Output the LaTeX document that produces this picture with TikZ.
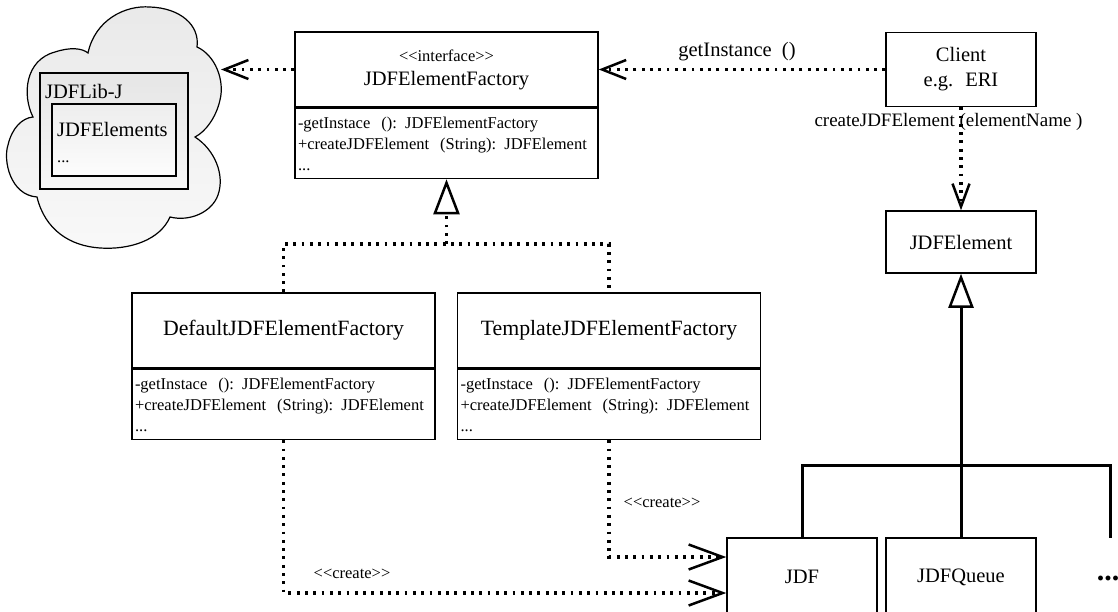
\documentclass[tikz,border=0pt]{standalone}
\usepackage{fontspec}
\setmainfont{Liberation Serif}
\usetikzlibrary{arrows.meta}
\usetikzlibrary{positioning}

\tikzset{
  cls/.style={draw, line width=1.5pt, fill=white, minimum width=303pt, minimum height=75pt, inner sep=0pt, align=center, font=\fontsize{20.5}{24}\selectfont},
  ops/.style={draw, line width=1.5pt, fill=white, minimum width=303pt, minimum height=70pt, inner xsep=3pt, inner ysep=0pt, text width=297pt, align=left, font=\fontsize{16.5}{21}\selectfont},
  box/.style={draw, line width=1.5pt, fill=white, minimum width=150pt, inner sep=0pt, align=center, font=\fontsize{20.5}{25}\selectfont},
  txt/.style={inner sep=0pt, font=\fontsize{20.5}{24}\selectfont},
  lbl/.style={inner sep=0pt, font=\fontsize{20.5}{24}\selectfont},
  stereo/.style={inner sep=0pt, font=\fontsize{16.5}{20}\selectfont},
  dotline/.style={line width=3.3pt, dash pattern=on 2.8pt off 5.5pt, line cap=butt},
  call/.style={dotline, -{Straight Barb[length=24pt,width=19pt,line width=2.5pt]}},
  create/.style={dotline, -{Straight Barb[length=34pt,width=25pt,line width=2.5pt]}},
  realize/.style={dotline, -{Triangle[open,length=35pt,width=26pt,line width=2.5pt]}},
  treeline/.style={line width=3pt},
  inherit/.style={treeline, -{Triangle[open,length=34pt,width=25pt,line width=2.5pt]}}
}

\begin{document}
\begin{tikzpicture}[x=1pt,y=-1pt]
\useasboundingbox (0,0) rectangle (1118,611);
\clip (0,0) rectangle (1118,611);

%Shape: Cloud
\draw[line width=1.2pt, top color=gray!17, bottom color=gray!5]
  (33,117) .. controls (22,95) and (25,60) .. (55,52) .. controls (70,47) and (82,48) .. (88,53)
  .. controls (95,20) and (125,5) .. (150,7) .. controls (180,8) and (200,25) .. (197,47)
  .. controls (215,55) and (225,80) .. (220,100) .. controls (216,118) and (205,132) .. (195,137)
  .. controls (215,150) and (225,175) .. (218,195) .. controls (212,212) and (190,222) .. (170,217)
  .. controls (160,240) and (130,250) .. (100,248) .. controls (70,246) and (45,230) .. (37,197)
  .. controls (10,195) and (3,160) .. (8,145) .. controls (12,128) and (22,118) .. (33,117) -- cycle;
%Shape: Rectangle
\draw[line width=1.2pt, top color=gray!20, bottom color=gray!6] (40,73) rectangle (188,189);
%Shape: Rectangle
\draw[line width=1.2pt, top color=gray!14, bottom color=gray!2] (52,104) rectangle (176,176);
% Text Node
\node[txt, anchor=base west] (libname) at (45,98) {JDFLib-J};
\node[txt, anchor=base west] (elemsname) at (57,136) {JDFElements};
\node[stereo, anchor=base west] (elemsmore) at (57,162) {...};
\coordinate (cloudtip) at (221,69.5);

% Classes
\node[cls] (factory) at (446.5,69.5) {{\fontsize{16.5}{24}\selectfont <{}<interface>{}>}\\JDFElementFactory};
\node[ops, below=0pt of factory] (factoryops) {-getInstace~ (): JDFElementFactory\\+createJDFElement~ (String): JDFElement\\...};
\node[cls, font=\fontsize{21.8}{24}\selectfont] (default) at (283.5,330.5) {DefaultJDFElementFactory};
\node[ops, below=0pt of default] (defaultops) {-getInstace~ (): JDFElementFactory\\+createJDFElement~ (String): JDFElement\\...};
\node[cls, font=\fontsize{21.8}{24}\selectfont] (template) at (609,330.5) {TemplateJDFElementFactory};
\node[ops, below=0pt of template] (templateops) {-getInstace~ (): JDFElementFactory\\+createJDFElement~ (String): JDFElement\\...};
\node[box, minimum height=74pt] (client) at (961,69.5) {Client\\e.g.~ ERI};
\node[box, minimum height=62pt] (element) at (961,242) {JDFElement};
\node[box, minimum height=78pt] (jdf) at (802,577) {JDF};
\node[box, minimum height=78pt] (queue) at (961,577) {JDFQueue};
\node[txt, font=\fontsize{30}{30}\selectfont\bfseries] (more) at (1108,578) {...};

% Calls
\draw[call] (factory.west) -- (cloudtip);
\draw[call] (client.west) -- (factory.east);
\draw[dotline, -{Straight Barb[length=23pt,width=17pt,line width=2.5pt]}] (client.south) -- (element.north);
\node[lbl] (getlbl) at (737,52) {getInstance~ ()};
\node[lbl, font=\fontsize{19}{22}\selectfont] (createlbl) at (948.5,122) {createJDFElement (elementName )};

% Realization
\coordinate (junction) at (446.5,244);
\draw[dotline] (default.north) |- (junction) -| (template.north);
\draw[realize] (junction) -- (factoryops.south);

% Create
\draw[create] (templateops.south) |- ([yshift=20pt]jdf.west);
\draw[create] (defaultops.south) |- ([yshift=-16pt]jdf.west);
\node[stereo] (createA) at (662,503) {<{}<create>{}>};
\node[stereo] (createB) at (352,574) {<{}<create>{}>};

% Inheritance
\coordinate (treetop) at (961,465);
\coordinate (morejoint) at (1110,538);
\draw[treeline] (jdf.north) |- (morejoint |- treetop) -- (morejoint);
\draw[treeline] (queue.north) -- (queue.north |- treetop);
\draw[inherit] (treetop) -- (element.south);

\end{tikzpicture}
\end{document}
